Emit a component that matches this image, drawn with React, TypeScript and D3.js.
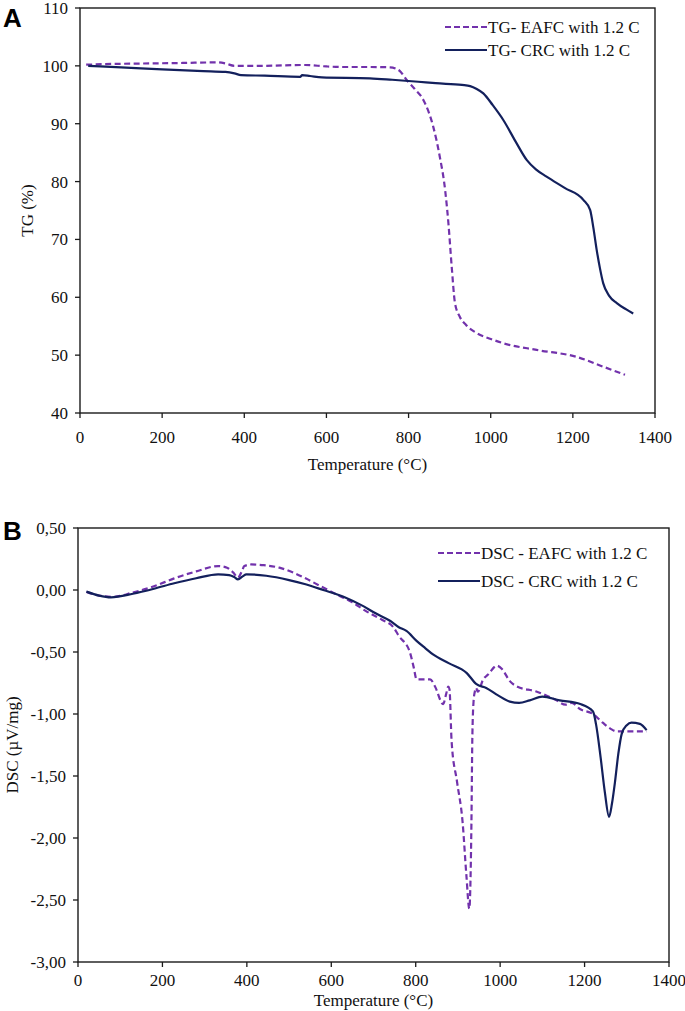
import React from "react";
import * as d3 from "d3";

// ---------- data ----------
const tempTicks = [0, 200, 400, 600, 800, 1000, 1200, 1400];
const tgTicks = [40, 50, 60, 70, 80, 90, 100, 110];
const dscTicks = [-3, -2.5, -2, -1.5, -1, -0.5, 0, 0.5];

const tgLegend = ["TG- EAFC with 1.2 C", "TG- CRC with 1.2 C"];
const dscLegend = ["DSC - EAFC with 1.2 C", "DSC - CRC with 1.2 C"];

const tgEafc: [number, number][] = [
  [15, 100.2], [60, 100.3], [150, 100.4], [250, 100.5], [334, 100.6], [355, 100.4],
  [376, 100.0], [441, 100.0], [548, 100.15], [600, 99.9], [640, 99.8], [706, 99.8],
  [755, 99.75], [768, 99.55], [779, 99.1], [795, 97.6], [815, 96.0], [836, 94.1],
  [860, 89.5], [876, 84.3], [889, 78.55], [897, 72.8], [905, 65.3], [913, 59.0],
  [925, 56.6], [940, 55.2], [966, 53.8], [1000, 52.8], [1031, 52.05], [1112, 50.9],
  [1209, 49.7], [1274, 48.0], [1327, 46.6],
];

const tgCrc: [number, number][] = [
  [20, 100.0], [100, 99.75], [200, 99.4], [300, 99.1], [354, 98.95], [376, 98.7],
  [392, 98.4], [450, 98.3], [536, 98.1], [541, 98.4], [560, 98.25], [589, 98.0],
  [706, 97.85], [760, 97.6], [824, 97.25], [866, 97.0], [930, 96.7], [950, 96.5],
  [966, 96.0], [982, 95.25], [1005, 93.2], [1031, 90.6], [1060, 87.0], [1088, 83.7],
  [1110, 82.1], [1136, 80.85], [1180, 78.9], [1226, 76.8], [1242, 75.1], [1250, 72.0],
  [1258, 68.2], [1266, 65.0], [1274, 62.4], [1288, 60.3], [1307, 59.0], [1330, 57.9],
  [1347, 57.2],
];

const dscEafc: [number, number][] = [
  [20, -0.015], [50, -0.045], [83, -0.055], [130, -0.02], [180, 0.03], [228, 0.094],
  [280, 0.15], [332, 0.193], [353, 0.18], [368, 0.14], [379, 0.1], [388, 0.15],
  [394, 0.193], [410, 0.206], [440, 0.2], [477, 0.18], [510, 0.14], [539, 0.094],
  [575, 0.03], [612, -0.035], [650, -0.1], [684, -0.174], [720, -0.24], [747, -0.3],
  [760, -0.37], [786, -0.5], [795, -0.62], [802, -0.72], [834, -0.72], [846, -0.78],
  [865, -0.92], [872, -0.84], [877, -0.78], [880, -0.8], [885, -1.22], [898, -1.55],
  [911, -1.87], [920, -2.3], [927, -2.57], [930, -2.3], [932, -1.87], [934, -1.22],
  [937, -0.9], [940, -0.82], [943, -0.79], [947, -0.82], [960, -0.72], [972, -0.68],
  [992, -0.61], [1005, -0.64], [1023, -0.735], [1041, -0.78], [1084, -0.817],
  [1131, -0.885], [1155, -0.925], [1170, -0.91], [1189, -0.96], [1220, -1.0],
  [1243, -1.07], [1262, -1.12], [1276, -1.14], [1347, -1.14],
];

const dscCrc: [number, number][] = [
  [20, -0.013], [50, -0.045], [78, -0.059], [130, -0.03], [180, 0.01], [228, 0.054],
  [280, 0.095], [332, 0.126], [358, 0.12], [370, 0.105], [379, 0.086], [390, 0.11],
  [399, 0.126], [446, 0.115], [500, 0.08], [539, 0.046], [581, 0.0], [633, -0.06],
  [670, -0.12], [705, -0.188], [740, -0.25], [760, -0.3], [778, -0.33], [802, -0.41],
  [823, -0.47], [841, -0.52], [878, -0.59], [921, -0.67], [944, -0.76], [967, -0.79],
  [995, -0.85], [1023, -0.9], [1045, -0.91], [1070, -0.89], [1100, -0.86], [1141, -0.89],
  [1190, -0.92], [1220, -0.98], [1227, -1.08], [1238, -1.35], [1248, -1.63],
  [1258, -1.83], [1265, -1.72], [1272, -1.55], [1280, -1.32], [1288, -1.16],
  [1300, -1.09], [1311, -1.07], [1331, -1.08], [1347, -1.13],
];

// ---------- style ----------
const PURPLE = "#7232AC";
const NAVY = "#13205C";
const FONT = "'Liberation Serif', 'Times New Roman', serif";
const FS = 17;

type PanelProps = {
  left: number; right: number; top: number; bottom: number;
  yDomain: [number, number]; yTicks: number[]; fmt: (v: number) => string;
  dashed: [number, number][]; solid: [number, number][];
  legend: string[]; legendX: number; legendY: number[];
  yTitle: string; yTitleX: number; xLabelY: number; xTitleY: number;
  letter: string; letterY: number;
};

function Panel(p: PanelProps) {
  const x = d3.scaleLinear().domain([0, 1400]).range([p.left, p.right]);
  const y = d3.scaleLinear().domain(p.yDomain).range([p.bottom, p.top]);
  const line = d3.line<[number, number]>()
    .x((d) => x(d[0]))
    .y((d) => y(d[1]))
    .curve(d3.curveMonotoneX);
  const midY = (p.top + p.bottom) / 2;
  const midX = (p.left + p.right) / 2;
  return (
    <g>
      <text x={3} y={p.letterY} fontFamily="'Liberation Sans', Arial, sans-serif"
        fontWeight="bold" fontSize={26} fill="#000">{p.letter}</text>
      <rect x={p.left} y={p.top} width={p.right - p.left} height={p.bottom - p.top}
        fill="none" stroke="#1a1a1a" strokeWidth={1.4} />
      {p.yTicks.map((t) => (
        <g key={"y" + t}>
          <line x1={p.left - 5} x2={p.left} y1={y(t)} y2={y(t)} stroke="#1a1a1a" strokeWidth={1.3} />
          <text x={p.left - 12} y={y(t)} dy="0.35em" textAnchor="end"
            fontFamily={FONT} fontSize={FS} fill="#111">{p.fmt(t)}</text>
        </g>
      ))}
      {tempTicks.map((t) => (
        <g key={"x" + t}>
          <line x1={x(t)} x2={x(t)} y1={p.bottom} y2={p.bottom + 5} stroke="#1a1a1a" strokeWidth={1.3} />
          <text x={x(t)} y={p.xLabelY} textAnchor="middle"
            fontFamily={FONT} fontSize={FS} fill="#111">{t}</text>
        </g>
      ))}
      <text x={midX} y={p.xTitleY} textAnchor="middle" fontFamily={FONT} fontSize={FS} fill="#111">
        Temperature (°C)
      </text>
      <text transform={`translate(${p.yTitleX},${midY}) rotate(-90)`} textAnchor="middle"
        fontFamily={FONT} fontSize={FS} fill="#111">{p.yTitle}</text>
      <path d={line(p.dashed) || ""} fill="none" stroke={PURPLE} strokeWidth={2.2}
        strokeDasharray="6,3.5" />
      <path d={line(p.solid) || ""} fill="none" stroke={NAVY} strokeWidth={2.2} />
      <line x1={p.legendX} x2={p.legendX + 42} y1={p.legendY[0]} y2={p.legendY[0]}
        stroke={PURPLE} strokeWidth={2.2} strokeDasharray="6,3" />
      <text x={p.legendX + 43} y={p.legendY[0]} dy="0.35em" fontFamily={FONT} fontSize={FS} fill="#111">
        {p.legend[0]}
      </text>
      <line x1={p.legendX} x2={p.legendX + 42} y1={p.legendY[1]} y2={p.legendY[1]}
        stroke={NAVY} strokeWidth={2.2} />
      <text x={p.legendX + 43} y={p.legendY[1]} dy="0.35em" fontFamily={FONT} fontSize={FS} fill="#111">
        {p.legend[1]}
      </text>
    </g>
  );
}

export default function App() {
  const fmtTg = (v: number) => String(v);
  const fmtDsc = (v: number) => d3.format(".2f")(v).replace("−", "-").replace(".", ",");
  return (
    <svg width={685} height={1011} style={{ position: "absolute", left: 0, top: 0, background: "#fff" }}>
      <rect width={685} height={1011} fill="#fff" />
      <Panel left={80} right={655} top={8} bottom={413} yDomain={[40, 110]} yTicks={tgTicks}
        fmt={fmtTg} dashed={tgEafc} solid={tgCrc} legend={tgLegend} legendX={445}
        legendY={[27, 50]} yTitle="TG (%)" yTitleX={33} xLabelY={443} xTitleY={470}
        letter="A" letterY={27} />
      <Panel left={78} right={669} top={528} bottom={962} yDomain={[-3, 0.5]} yTicks={dscTicks}
        fmt={fmtDsc} dashed={dscEafc} solid={dscCrc} legend={dscLegend} legendX={438}
        legendY={[553, 581]} yTitle="DSC (µV/mg)" yTitleX={18} xLabelY={986} xTitleY={1006}
        letter="B" letterY={540} />
    </svg>
  );
}
